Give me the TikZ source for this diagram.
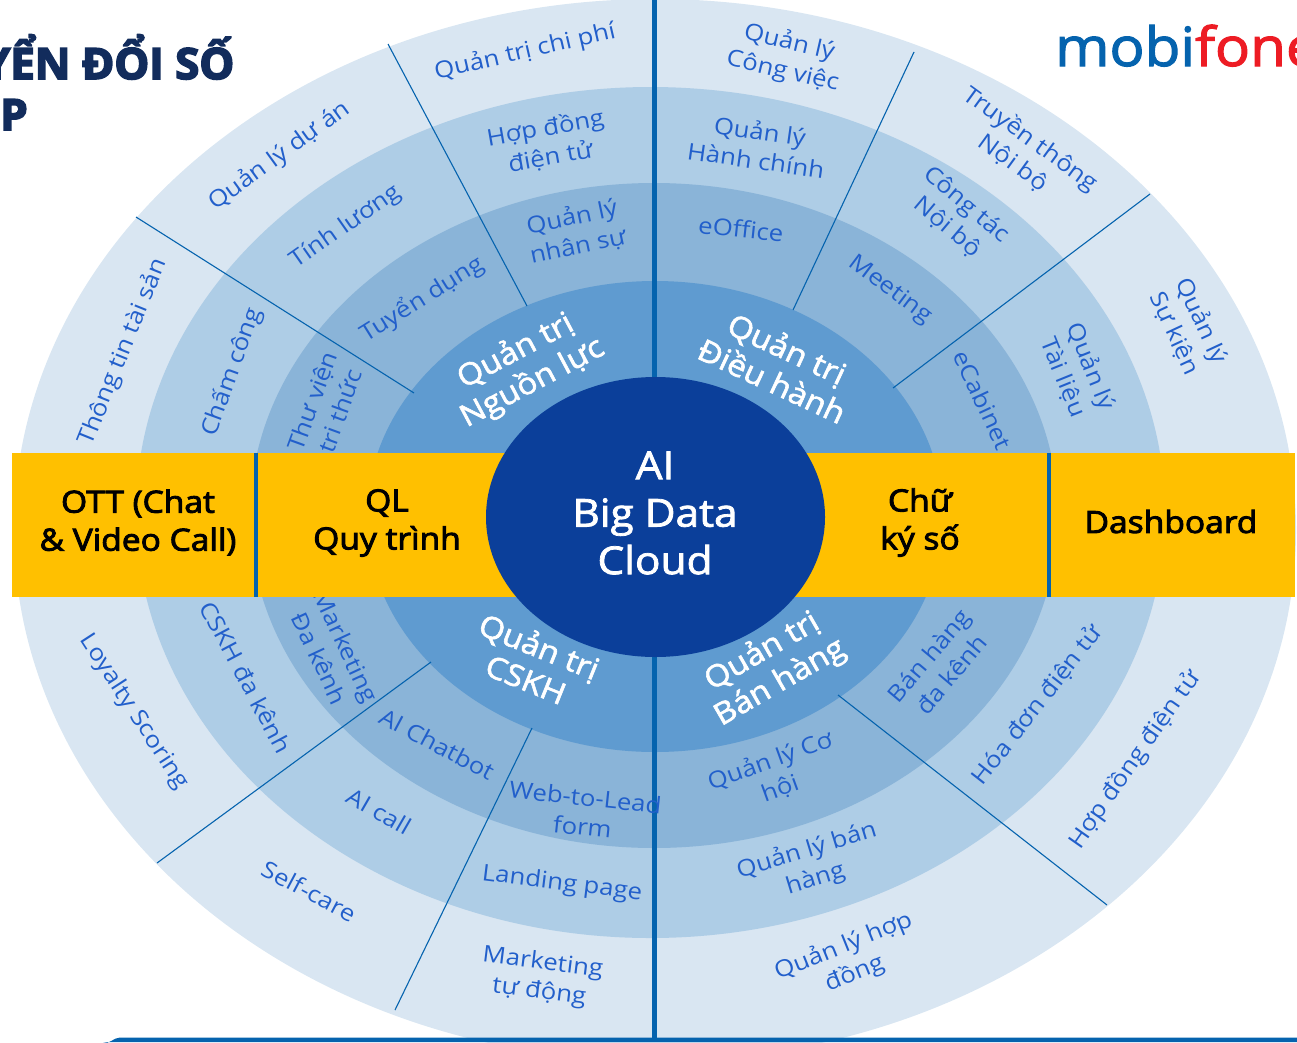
\documentclass[tikz,border=0pt]{standalone}
\usepackage{fontspec}
\setmainfont{Open Sans}[FakeStretch=1.12]
\newfontfamily\bandfam{Open Sans}[FakeStretch=1.1,FakeBold=3]
\newfontfamily\headfam{Open Sans}[FakeStretch=1.1,FakeBold=2]
\newfontfamily\titlefam{Open Sans}[FakeStretch=1.02,BoldFeatures={FakeBold=4}]
\newfontfamily\logofam{Open Sans}[FakeStretch=1.08,FakeBold=2]
\definecolor{ringA}{HTML}{D9E6F2}
\definecolor{ringB}{HTML}{AECDE6}
\definecolor{ringC}{HTML}{8AB4D8}
\definecolor{ringD}{HTML}{5F9BD0}
\definecolor{coreblue}{HTML}{0B3F9A}
\definecolor{linkblue}{HTML}{0563AE}
\definecolor{labelblue}{HTML}{225FCB}
\definecolor{bandyellow}{HTML}{FFC000}
\definecolor{titlenavy}{HTML}{122C5C}
\definecolor{logored}{HTML}{ED1C24}
\tikzset{
  x=1pt,y=-1pt,
  lab/.style={text=labelblue,align=center,inner sep=0pt,font=\fontsize{23}{29.5}\selectfont},
  labhead/.style={text=white,align=center,inner sep=0pt,font=\headfam\fontsize{30}{35.5}\selectfont},
  bandtext/.style={text=black,align=center,inner sep=0pt,font=\bandfam\fontsize{30.5}{38}\selectfont},
  coretext/.style={text=white,align=center,inner sep=0pt,font=\headfam\fontsize{38.5}{47.5}\selectfont},
  titletext/.style={anchor=base east,inner sep=0pt,text=titlenavy,font=\titlefam\bfseries\fontsize{43}{50}\selectfont},
  thinline/.style={draw=linkblue,line width=1.1pt},
  axisline/.style={draw=linkblue,line width=5pt},
  bandline/.style={draw=linkblue,line width=3.5pt}
}
\begin{document}
\begin{tikzpicture}
\useasboundingbox (0,0) rectangle (1297,1042);
\clip (0,0) rectangle (1297,1042);
% rings
\fill[ringA] (655,530) ellipse [x radius=641pt,y radius=531pt];
\fill[ringB] (650.5,512.5) ellipse [x radius=514.5pt,y radius=425.5pt];
\fill[ringC] (654,515.5) ellipse [x radius=404pt,y radius=332.5pt];
\fill[ringD] (655,516.5) ellipse [x radius=288pt,y radius=235.5pt];
% bottom bar
\fill[linkblue] (103,1042) to[out=-30,in=180] (120,1037.5) -- (1297,1037.5) -- (1297,1042) -- cycle;
% separators
\coordinate (s1a) at (388,44);  \coordinate (s1b) at (527,306);
\coordinate (s2a) at (914,52);  \coordinate (s2b) at (793,310);
\coordinate (s3a) at (1150,194);\coordinate (s3b) at (893,388);
\coordinate (s4a) at (136,217); \coordinate (s4b) at (414,393);
\coordinate (s5a) at (157,863); \coordinate (s5b) at (431,662);
\coordinate (s6a) at (395,1010);\coordinate (s6b) at (532,728);
\coordinate (s7a) at (1107,905);\coordinate (s7b) at (838,695);
\draw[thinline] (s1a) -- (s1b);
\draw[thinline] (s2a) -- (s2b);
\draw[thinline] (s3a) -- (s3b);
\draw[thinline] (s4a) -- (s4b);
\draw[thinline] (s5a) -- (s5b);
\draw[thinline] (s6a) -- (s6b);
\draw[thinline] (s7a) -- (s7b);
\coordinate (axT) at (654,0); \coordinate (axB) at (654,1042);
\draw[axisline] (axT) -- (axB);
% outer ring labels
\node[lab,rotate=13]  (o1) at (525,52) {Quản trị chi phí};
\node[lab,rotate=36]  (o2) at (279.5,156) {Quản lý dự án};
\node[lab,rotate=68]  (o3) at (123,352) {Thông tin tài sản};
\node[lab,rotate=-13] (o4) at (786,57) {Quản lý\\Công việc};
\node[lab,rotate=-36] (o5) at (1022,151) {Truyền thông\\Nội bộ};
\node[lab,rotate=-65] (o6) at (1188,327) {Quản lý\\Sự kiện};
\node[lab,rotate=-57] (o7) at (134,712) {Loyalty Scoring};
\node[lab,rotate=-28] (o8) at (309,891) {Self-care};
\node[lab,rotate=-7]  (o9) at (541,978) {Marketing\\tự động};
\node[lab,rotate=22]  (o10) at (849,960) {Quản lý hợp\\đồng};
\node[lab,rotate=55]  (o11) at (1135,760) {Hợp đồng điện tử};
% third ring labels
\node[lab,rotate=10]  (b1) at (548,143) {Hợp đồng\\điện tử};
\node[lab,rotate=35]  (b2) at (346,227) {Tính lương};
\node[lab,rotate=70]  (b3) at (232,372) {Chấm công};
\node[lab,rotate=-8]  (b4) at (758,145) {Quản lý\\Hành chính};
\node[lab,rotate=-40] (b5) at (957,216) {Công tác\\Nội bộ};
\node[lab,rotate=-68] (b6) at (1077,372) {Quản lý\\Tài liệu};
\node[lab,rotate=-62] (b7) at (246,677) {CSKH đa kênh};
\node[lab,rotate=-30] (b8) at (379,811) {AI call};
\node[lab,rotate=-7]  (b9) at (562,884) {Landing page};
\node[lab,rotate=17]  (b10) at (811,865) {Quản lý bán\\hàng};
\node[lab,rotate=52]  (b11) at (1037,705) {Hóa đơn điện tử};
% second ring labels
\node[lab,rotate=12]  (c1) at (575,232) {Quản lý\\nhân sự};
\node[lab,rotate=32]  (c2) at (422,299) {Tuyển dụng};
\node[lab,rotate=70]  (c3) at (326,406) {Thư viện\\tri thức};
\node[lab,rotate=-6]  (c4) at (741,229) {eOffice};
\node[lab,rotate=-37] (c5) at (890,290) {Meeting};
\node[lab,rotate=-65] (c6) at (983,400) {eCabinet};
\node[lab,rotate=-65] (c7) at (333,652) {Marketing\\Đa kênh};
\node[lab,rotate=-28] (c8) at (437,744) {AI Chatbot};
\node[lab,rotate=-6]  (c9) at (584,812) {Web-to-Lead\\form};
\node[lab,rotate=20]  (c10) at (775,775) {Quản lý Cơ\\hội};
\node[lab,rotate=50]  (c11) at (940,665) {Bán hàng\\đa kênh};
% inner ring labels
\node[labhead,rotate=28]  (d1) at (524,367) {Quản trị\\Nguồn lực};
\node[labhead,rotate=-25] (d2) at (780,364) {Quản trị\\Điều hành};
\node[labhead,rotate=-22] (d3) at (533,662) {Quản trị\\CSKH};
\node[labhead,rotate=30]  (d4) at (771,667) {Quản trị\\Bán hàng};
% yellow band
\fill[bandyellow] (12,453) rectangle (1295,597);
\coordinate (v1a) at (256,453); \coordinate (v1b) at (256,597);
\coordinate (v2a) at (1049,453);\coordinate (v2b) at (1049,597);
\draw[bandline] (v1a) -- (v1b);
\draw[bandline] (v2a) -- (v2b);
\node[bandtext] (e1) at (138,522.5) {OTT (Chat\\\& Video Call)};
\node[bandtext] (e2) at (387,523) {QL\\Quy trình};
\node[bandtext] (e3) at (920,522.5) {Chữ\\ký số};
\node[bandtext] (e4) at (1171,521.5) {Dashboard};
% core
\fill[coreblue] (655.5,517) ellipse [x radius=169.5pt,y radius=140pt];
\node[coretext] (core) at (655,513) {AI\\Big Data\\Cloud};
% title
\node[titletext] (t1) at (234.5,79) {YỂN ĐỔI SỐ};
\node[titletext] (t2) at (28,130) {P};
% logo
\node[anchor=base west,inner sep=0pt,font=\logofam\fontsize{54}{60}\selectfont] (logo) at (1055,66) {\textcolor{linkblue}{mobi}\textcolor{logored}{fone}};
\end{tikzpicture}
\end{document}
